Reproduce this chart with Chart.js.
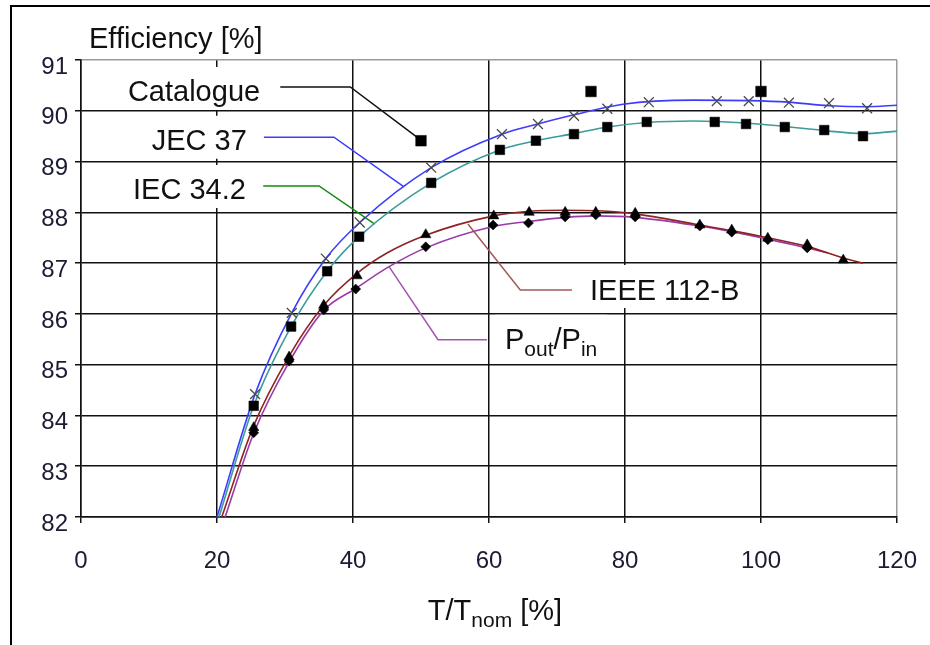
<!DOCTYPE html>
<html><head><meta charset="utf-8">
<script src="https://cdn.jsdelivr.net/npm/chart.js@4.4.1/dist/chart.umd.min.js"></script>
<style>
html,body{margin:0;padding:0;background:#fff;}
#wrap{position:relative;width:930px;height:645px;overflow:hidden;background:#fff;}
#frame{position:absolute;left:10px;top:5px;width:940px;height:660px;border-left:2px solid #000;border-top:2px solid #000;pointer-events:none;}
canvas{position:absolute;left:0;top:0;}
</style></head><body>
<div id="wrap"><canvas id="c" width="930" height="645"></canvas><div id="frame"></div></div>
<script>
// ---- tick labels ----
const X_TICKS = [0, 20, 40, 60, 80, 100, 120];
const Y_TICKS = [82, 83, 84, 85, 86, 87, 88, 89, 90, 91];

// ---- measured points (markers) ----
const CATALOGUE_X = [50, 75, 100];
const CATALOGUE_Y = [89.41, 90.38, 90.38];

const JEC37_X = [25.6, 31, 36, 41, 51.5, 61.9, 67.2, 72.5, 77.4, 83.5, 93.5, 98.2, 104.1, 110, 115.6];
const JEC37_Y = [84.42, 86.02, 87.09, 87.8, 88.88, 89.54, 89.74, 89.9, 90.04, 90.17, 90.19, 90.19, 90.16, 90.15, 90.05];

const IEC342_X = [25.4, 30.9, 36.2, 40.9, 51.5, 61.6, 66.9, 72.5, 77.4, 83.2, 93.2, 97.8, 103.5, 109.3, 115];
const IEC342_Y = [84.19, 85.75, 86.84, 87.52, 88.58, 89.23, 89.41, 89.54, 89.68, 89.78, 89.78, 89.74, 89.68, 89.62, 89.5];

const IEEE112B_X = [25.4, 30.6, 35.7, 40.6, 50.7, 60.7, 65.9, 71.2, 75.7, 81.5, 91, 95.7, 101, 106.8, 112.1];
const IEEE112B_Y = [83.76, 85.15, 86.17, 86.75, 87.56, 87.93, 88.0, 88.0, 88.0, 87.98, 87.75, 87.65, 87.49, 87.36, 87.06];

const POUTPIN_X = [25.4, 30.6, 35.7, 40.4, 50.7, 60.6, 65.8, 71.2, 75.7, 81.5, 91, 95.7, 101, 106.8];
const POUTPIN_Y = [83.66, 85.07, 86.08, 86.49, 87.32, 87.75, 87.79, 87.91, 87.95, 87.91, 87.73, 87.61, 87.46, 87.3];

// ---- fitted curves ----
const JEC37_CURVE_X = [20, 25.6, 31, 36, 41, 51.5, 61.9, 67.2, 72.5, 79.7, 90, 98.2, 104, 110, 115.6, 120];
const JEC37_CURVE_Y = [82.0, 84.42, 86.02, 87.09, 87.8, 88.88, 89.54, 89.74, 89.92, 90.13, 90.21, 90.2, 90.17, 90.1, 90.08, 90.11];

const IEC342_CURVE_X = [20.3, 25.4, 30.9, 36.2, 40.9, 51.5, 61.6, 66.9, 72.5, 77.4, 83.2, 90, 97.8, 103.5, 109.3, 115, 120];
const IEC342_CURVE_Y = [82.0, 84.19, 85.75, 86.84, 87.52, 88.58, 89.23, 89.41, 89.55, 89.68, 89.77, 89.8, 89.76, 89.69, 89.61, 89.55, 89.6];

const IEEE112B_CURVE_X = [20.7, 25.4, 30.6, 35.7, 40.6, 45, 50.7, 60.7, 66, 71, 76, 81.5, 91, 95.7, 101, 106.8, 112.1, 115];
const IEEE112B_CURVE_Y = [82.0, 83.8, 85.17, 86.17, 86.8, 87.2, 87.55, 87.93, 88.02, 88.04, 88.03, 87.97, 87.75, 87.64, 87.5, 87.33, 87.1, 87.0];

const POUTPIN_CURVE_X = [21.2, 25.4, 30.6, 35.7, 40.4, 45.3, 50.7, 60.6, 65.8, 71.2, 75.7, 81.5, 91, 95.7, 101, 106.8, 109.8];
const POUTPIN_CURVE_Y = [82.0, 83.65, 85.05, 86.07, 86.5, 86.93, 87.3, 87.72, 87.82, 87.9, 87.93, 87.9, 87.73, 87.62, 87.47, 87.3, 87.2];

// ---- callout leader lines (data coordinates) ----
const LEAD_CATALOGUE_X = [29.3, 39.6, 49.6];
const LEAD_CATALOGUE_Y = [90.47, 90.47, 89.46];
const LEAD_JEC37_X = [26.9, 37.2, 47.5];
const LEAD_JEC37_Y = [89.48, 89.48, 88.5];
const LEAD_IEC342_X = [26.8, 35.0, 43.2];
const LEAD_IEC342_Y = [88.52, 88.52, 87.77];
const LEAD_IEEE112B_X = [72.2, 64.6, 56.9];
const LEAD_IEEE112B_Y = [86.47, 86.47, 87.77];
const LEAD_POUTPIN_X = [59.7, 52.5, 45.3];
const LEAD_POUTPIN_Y = [85.49, 85.49, 86.93];

// ---- callout labels: text parts [text, isSubscript], left x and cap-centre y in data units ----
const LABELS = [
  { parts: [['Catalogue', 0]], x: 6.9, y: 90.39 },
  { parts: [['JEC 37', 0]], x: 10.4, y: 89.43 },
  { parts: [['IEC 34.2', 0]], x: 7.65, y: 88.46 },
  { parts: [['IEEE 112-B', 0]], x: 74.85, y: 86.49 },
  { parts: [['P', 0], ['out', 1], ['/P', 0], ['in', 1]], x: 62.35, y: 85.51 }
];
const Y_TITLE = [['Efficiency [%]', 0]];
const X_TITLE = [['T/T', 0], ['nom', 1], [' [%]', 0]];

const zip = (xs, ys) => xs.map((x, i) => ({ x: x, y: ys[i] }));

const FAM = '"Liberation Sans", Arial, Helvetica, sans-serif';
const MAIN = '29px ' + FAM;
const SUB = '21px ' + FAM;

function richWidth(ctx, parts) {
  let w = 0;
  parts.forEach(p => { ctx.font = p[1] ? SUB : MAIN; w += ctx.measureText(p[0]).width; });
  return w;
}
function drawRich(ctx, parts, x, baseline) {
  ctx.textBaseline = 'alphabetic';
  ctx.textAlign = 'left';
  parts.forEach(p => {
    ctx.font = p[1] ? SUB : MAIN;
    ctx.fillText(p[0], x, baseline + (p[1] ? 7 : 0));
    x += ctx.measureText(p[0]).width;
  });
}

const annot = {
  id: 'annot',
  beforeDatasetsDraw(chart) {
    const { ctx, scales } = chart;
    ctx.save();
    ctx.fillStyle = '#ffffff';
    LABELS.forEach(l => {
      const px = scales.x.getPixelForValue(l.x);
      const py = scales.y.getPixelForValue(l.y);
      const w = richWidth(ctx, l.parts);
      ctx.fillRect(px - 10, py - 24, w + 20, 43);
    });
    ctx.restore();
  },
  afterDatasetsDraw(chart) {
    const { ctx, scales, chartArea } = chart;
    ctx.save();
    ctx.fillStyle = '#111111';
    LABELS.forEach(l => {
      const px = scales.x.getPixelForValue(l.x);
      const py = scales.y.getPixelForValue(l.y);
      drawRich(ctx, l.parts, px, py + 10.5);
    });
    // y axis title (horizontal, above the axis)
    drawRich(ctx, Y_TITLE, chartArea.left + 8, chartArea.top - 12);
    // x axis title
    const w = richWidth(ctx, X_TITLE);
    drawRich(ctx, X_TITLE, (chartArea.left + chartArea.right) / 2 + 6 - w / 2, chartArea.bottom + 103);
    ctx.restore();
  }
};

const curve = (xs, ys, color) => ({
  data: zip(xs, ys), showLine: true, borderColor: color, borderWidth: 1.6,
  pointRadius: 0, cubicInterpolationMode: 'monotone', fill: false, order: 2
});
const leader = (xs, ys, color) => ({
  data: zip(xs, ys), showLine: true, borderColor: color, borderWidth: 1.5,
  pointRadius: 0, tension: 0, fill: false, order: 3
});
const marks = (xs, ys, style, r, color, bw) => ({
  data: zip(xs, ys), showLine: false, pointStyle: style, pointRadius: r,
  backgroundColor: color, borderColor: color, borderWidth: bw, order: 0
});

new Chart(document.getElementById('c'), {
  type: 'scatter',
  data: {
    datasets: [
      marks(CATALOGUE_X, CATALOGUE_Y, 'rect', 7.5, '#000', 0.5),
      marks(JEC37_X, JEC37_Y, 'crossRot', 7, '#4a4a4a', 1.3),
      marks(IEC342_X, IEC342_Y, 'rect', 6.8, '#000', 0.5),
      marks(IEEE112B_X, IEEE112B_Y, 'triangle', 6, '#000', 0.5),
      marks(POUTPIN_X, POUTPIN_Y, 'rectRot', 5, '#000', 0.5),
      curve(JEC37_CURVE_X, JEC37_CURVE_Y, '#3c3cff'),
      curve(IEC342_CURVE_X, IEC342_CURVE_Y, '#3a9c9c'),
      curve(IEEE112B_CURVE_X, IEEE112B_CURVE_Y, '#8e2424'),
      curve(POUTPIN_CURVE_X, POUTPIN_CURVE_Y, '#9a3aa8'),
      leader(LEAD_CATALOGUE_X, LEAD_CATALOGUE_Y, '#111111'),
      leader(LEAD_JEC37_X, LEAD_JEC37_Y, '#3c3cff'),
      leader(LEAD_IEC342_X, LEAD_IEC342_Y, '#138a13'),
      leader(LEAD_IEEE112B_X, LEAD_IEEE112B_Y, '#a05a5a'),
      leader(LEAD_POUTPIN_X, LEAD_POUTPIN_Y, '#a552b2')
    ]
  },
  options: {
    responsive: false,
    animation: false,
    events: [],
    layout: { padding: { left: 0, top: 60, right: 33, bottom: 0 } },
    plugins: { legend: { display: false }, tooltip: { enabled: false }, title: { display: false } },
    scales: {
      x: {
        type: 'linear', min: 0, max: 120,
        afterBuildTicks: s => { s.ticks = X_TICKS.map(v => ({ value: v })); },
        afterFit: s => { s.height = 128; s.paddingLeft = 0; s.paddingRight = 0; },
        ticks: { color: '#1b1b33', font: { family: FAM, size: 24 }, padding: 24, maxRotation: 0 },
        grid: {
          color: c => (c.tick && c.tick.value === 120) ? '#9a9a9a' : '#111111',
          tickColor: '#111111', lineWidth: 1.5, tickLength: 6
        },
        border: { color: '#111111', width: 1.5 }
      },
      y: {
        type: 'linear', min: 82, max: 91,
        afterBuildTicks: s => { s.ticks = Y_TICKS.map(v => ({ value: v })); },
        afterFit: s => { s.width = 81; s.paddingTop = 0; s.paddingBottom = 0; },
        ticks: { color: '#1b1b33', font: { family: FAM, size: 24 }, padding: 7, labelOffset: 7 },
        grid: {
          color: c => (c.tick && c.tick.value === 91) ? '#9a9a9a' : '#111111',
          tickColor: '#111111', lineWidth: 1.5, tickLength: 6
        },
        border: { color: '#111111', width: 1.5 }
      }
    }
  },
  plugins: [annot]
});
</script>
</body></html>
